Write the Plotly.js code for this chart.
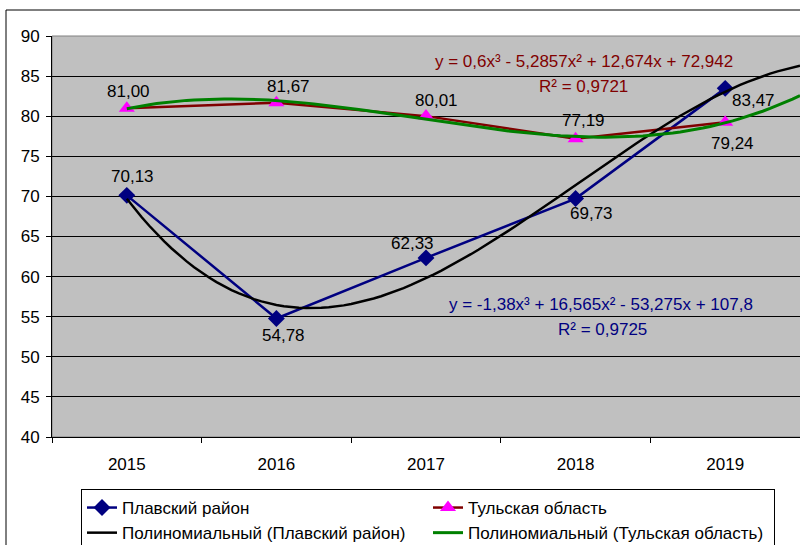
<!DOCTYPE html>
<html><head><meta charset="utf-8">
<script src="https://cdn.plot.ly/plotly-3.0.1.min.js"></script>
<style>html,body{margin:0;padding:0;background:#fff}#chart{width:800px;height:545px}</style>
</head><body><div id="chart"></div>
<script>
var years = ['2015','2016','2017','2018','2019'];
var plavsk = [70.13, 54.78, 62.33, 69.73, 83.47];
var tula = [81.00, 81.67, 80.01, 77.19, 79.24];
// polynomial trendline coefficients as printed on the chart (x^3, x^2, x, const)
var plavskCoef = [-1.38, 16.565, -53.275, 107.8];
var tulaCoef = [0.6, -5.2857, 12.674, 72.942];
var plavskR2 = '0,9725';
var tulaR2 = '0,9721';
var trendForward = 0.5;

var idx = years.map(function(_, i){ return i + 1; });
function poly(c, x){ return c[0]*x*x*x + c[1]*x*x + c[2]*x + c[3]; }
function trend(c){
  var xs = [], ys = [];
  for (var k = 0; k <= (years.length - 1 + trendForward) * 20; k++){
    var x = 1 + k / 20; xs.push(x); ys.push(poly(c, x));
  }
  return {x: xs, y: ys};
}
var tp = trend(plavskCoef), tt = trend(tulaCoef);
function fmt(v){ return v.toFixed(2).replace('.', ','); }

var traces = [
  {x: idx, y: plavsk, name: 'Плавский район', mode: 'lines+markers',
   line: {color: '#000080', width: 2.5}, marker: {symbol: 'diamond', size: 13, color: '#000080'}},
  {x: idx, y: tula, name: 'Тульская область', mode: 'lines+markers',
   line: {color: '#800000', width: 2.5}, marker: {symbol: 'triangle-up', size: 14, color: '#FF00FF'}},
  {x: tp.x, y: tp.y, name: 'Полиномиальный (Плавский район)', mode: 'lines',
   line: {color: '#000000', width: 2.5}},
  {x: tt.x, y: tt.y, name: 'Полиномиальный (Тульская область)', mode: 'lines',
   line: {color: '#008000', width: 3}}
];

// label offsets (pixels) for data labels
var plOff = [[6,-19],[7,17],[-14,-14],[16,15],[28,12]];
var tuOff = [[2,-17],[12,-16],[10,-16],[8,-18],[7,21]];
var ann = [];
plavsk.forEach(function(v,i){
  ann.push({x: idx[i], y: v, text: fmt(v), showarrow: false, xanchor: 'center', yanchor: 'middle',
    xshift: plOff[i][0], yshift: -plOff[i][1], font: {size: 17, color: '#000'}});
});
tula.forEach(function(v,i){
  ann.push({x: idx[i], y: v, text: fmt(v), showarrow: false, xanchor: 'center', yanchor: 'middle',
    xshift: tuOff[i][0], yshift: -tuOff[i][1], font: {size: 17, color: '#000'}});
});
function coefStr(c){
  var s = 'y = ' + String(c[0]).replace('.', ',') + 'x³';
  function term(v, suf){ return (v < 0 ? ' - ' : ' + ') + String(Math.abs(v)).replace('.', ',') + suf; }
  return s + term(c[1], 'x²') + term(c[2], 'x') + term(c[3], '');
}
function eqAnn(px, py, text, color){
  return {xref:'paper', yref:'paper', x:(px-52)/748, y:(437-py)/401, xanchor:'center', yanchor:'middle',
    text: text, showarrow:false, font:{size:17, color: color}};
}
ann.push(eqAnn(584, 62, coefStr(tulaCoef), '#800000'));
ann.push(eqAnn(583, 86, 'R² = ' + tulaR2, '#800000'));
ann.push(eqAnn(601, 304, coefStr(plavskCoef), '#000080'));
ann.push(eqAnn(602, 329, 'R² = ' + plavskR2, '#000080'));

var layout = {
  width: 800, height: 545,
  margin: {l: 52, r: 0, t: 36, b: 108, autoexpand: false},
  paper_bgcolor: '#ffffff', plot_bgcolor: '#C0C0C0',
  font: {family: 'Liberation Sans, Arial, sans-serif', size: 17, color: '#000'},
  showlegend: true,
  xaxis: {range: [0.5, 5.5], tickvals: idx, ticktext: years, ticks: '', showgrid: false, zeroline: false,
    showline: true, linecolor: '#000', linewidth: 1, ticklabelstandoff: 12, fixedrange: true,
    tickfont: {size: 17}, automargin: false,
    minor: {tickmode: 'linear', tick0: 0.5, dtick: 1, ticks: 'outside', ticklen: 5, tickcolor: '#000', showgrid: false}},
  yaxis: {range: [40, 90], dtick: 5, ticks: 'outside', ticklen: 5, tickcolor: '#000', showgrid: true,
    gridcolor: '#000', gridwidth: 1, zeroline: false, showline: true, linecolor: '#000', linewidth: 1,
    ticklabelstandoff: 3, fixedrange: true, tickfont: {size: 17}, automargin: false},
  legend: {orientation: 'h', x: (81-52)/748, y: (437-489)/401, xanchor: 'left', yanchor: 'top',
    bgcolor: '#fff', bordercolor: '#000', borderwidth: 1, font: {size: 17, color: '#000'},
    entrywidth: 301, traceorder: 'normal'},
  shapes: [
    {type: 'rect', xref: 'paper', yref: 'paper', x0: 0, x1: 1.01, y0: 0, y1: 1, layer: 'between',
     line: {color: '#808080', width: 1}},
    {type: 'rect', xref: 'paper', yref: 'paper', x0: (6-52)/748, x1: 1.1, y0: (437-560)/401, y1: (437-10)/401,
     layer: 'above', line: {color: '#000', width: 1}}
  ],
  annotations: ann
};
Plotly.newPlot('chart', traces, layout, {displayModeBar: false, staticPlot: true});
</script></body></html>
